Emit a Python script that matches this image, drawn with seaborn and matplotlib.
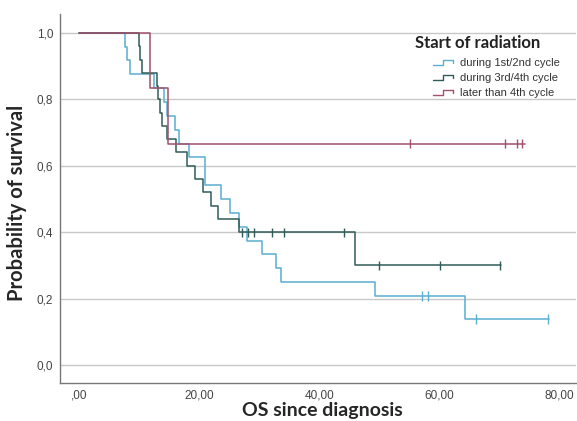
import numpy as np
import pandas as pd
import matplotlib
matplotlib.use("Agg")
import matplotlib.pyplot as plt
import seaborn as sns
from matplotlib.lines import Line2D
from matplotlib.legend_handler import HandlerBase

# Kaplan-Meier step values
groups = ["during 1st/2nd cycle", "during 3rd/4th cycle", "later than 4th cycle"]
colors = ["#5aaed0", "#2f5c58", "#a2506e"]

cyan_t = [0, 7.7, 8.0, 8.5, 12.5, 14.2, 14.6, 15.9, 16.7, 18.3, 20.9, 23.7, 25.1,
          26.7, 28.0, 30.4, 32.8, 33.7, 49.3, 64.3]
cyan_s = [1.0, 0.958, 0.917, 0.875, 0.833, 0.792, 0.750, 0.708, 0.667, 0.625, 0.542,
          0.500, 0.458, 0.417, 0.375, 0.333, 0.292, 0.250, 0.208, 0.139]
cyan_cens = [57.1, 58.2, 66.1, 78.1]
cyan_end = 78.3

dark_t = [0, 10.0, 10.2, 10.5, 12.9, 13.1, 13.4, 13.8, 14.6, 16.2, 17.9, 19.3, 20.7,
          22.0, 23.1, 26.7, 46.0]
dark_s = [1.0, 0.96, 0.92, 0.88, 0.84, 0.80, 0.76, 0.72, 0.68, 0.64, 0.60, 0.56, 0.52,
          0.48, 0.44, 0.40, 0.30]
dark_cens = [27.2, 28.1, 29.2, 32.2, 34.2, 44.2, 50.0, 60.1, 70.2]
dark_end = 70.4

red_t = [0, 11.8, 14.8]
red_s = [1.0, 0.833, 0.667]
red_cens = [55.1, 71.0, 73.0, 73.9]
red_end = 74.4

x_ticks = [0, 20, 40, 60, 80]
x_labels = [",00", "20,00", "40,00", "60,00", "80,00"]
y_ticks = [0, 0.2, 0.4, 0.6, 0.8, 1.0]
y_labels = ["0,0", "0,2", "0,4", "0,6", "0,8", "1,0"]

series = [(cyan_t, cyan_s, cyan_cens, cyan_end),
          (dark_t, dark_s, dark_cens, dark_end),
          (red_t, red_s, red_cens, red_end)]

rows, cens_rows = [], []
for g, (t, s, c, end) in zip(groups, series):
    for ti, si in zip(t + [end], s + [s[-1]]):
        rows.append({"time": ti, "surv": si, "group": g})
    for ci in c:
        idx = np.searchsorted(t, ci, side="right") - 1
        cens_rows.append({"time": ci, "surv": s[idx], "group": g})
df = pd.DataFrame(rows)
cens = pd.DataFrame(cens_rows)

sns.set_theme(style="white")
plt.rcParams["font.family"] = ["Liberation Sans", "DejaVu Sans"]

fig = plt.figure(figsize=(5.77, 4.21), dpi=100)
ax = fig.add_axes([60 / 577, 1 - 383 / 421, 1 - 60 / 577 - 0.002, (383 - 14) / 421])

pal = dict(zip(groups, colors))
sns.lineplot(data=df, x="time", y="surv", hue="group", palette=pal, estimator=None,
             sort=False, drawstyle="steps-post", linewidth=1.1, legend=False, ax=ax)
sns.scatterplot(data=cens, x="time", y="surv", hue="group", palette=pal, marker="|",
                s=45, linewidth=1.0, legend=False, ax=ax, zorder=4)

ax.set_xlim(-3.2, 82.8)
ax.set_ylim(-0.054, 1.057)
ax.set_xticks(x_ticks, x_labels)
ax.set_yticks(y_ticks, y_labels)
ax.tick_params(length=0, labelsize=8.5, labelcolor="#444444", pad=5)
ax.yaxis.grid(True, color="#c8c8c8", linewidth=1.0)
ax.set_axisbelow(True)
for side in ["top", "right"]:
    ax.spines[side].set_visible(False)
for side in ["left", "bottom"]:
    ax.spines[side].set_color("#777777")
    ax.spines[side].set_linewidth(1.0)

ax.set_xlabel("OS since diagnosis", fontsize=14, fontweight="bold", family="Lato")
ax.xaxis.set_label_coords(0.508, -0.052)
ax.set_ylabel("Probability of survival", fontsize=14.5, fontweight="bold", family="Lato")
ax.yaxis.set_label_coords(-0.064, 0.488)


class StepHandler(HandlerBase):
    def create_artists(self, legend, orig_handle, xdescent, ydescent, width, height,
                       fontsize, trans):
        xs = np.array([0, 0.45, 0.45, 0.95, 0.95]) * width - xdescent
        ys = np.array([0.1, 0.1, 0.75, 0.75, 0.4]) * height - ydescent
        return [Line2D(xs, ys, color=orig_handle.get_color(), lw=1.0, transform=trans)]


fig.text(415 / 577, 1 - 43 / 421, "Start of radiation", fontsize=12, fontweight="bold",
         family="Lato", ha="left", va="center", color="#222222")
handles = [Line2D([], [], color=c) for c in colors]
leg = ax.legend(handles, groups, handler_map={Line2D: StepHandler()},
                loc="upper left", bbox_to_anchor=(423 / 577, 1 - 48 / 421),
                bbox_transform=fig.transFigure, frameon=False, fontsize=8,
                handlelength=1.9, handletextpad=0.55, labelspacing=0.45)
for txt in leg.get_texts():
    txt.set_color("#333333")

fig.savefig("out.png", dpi=100)
